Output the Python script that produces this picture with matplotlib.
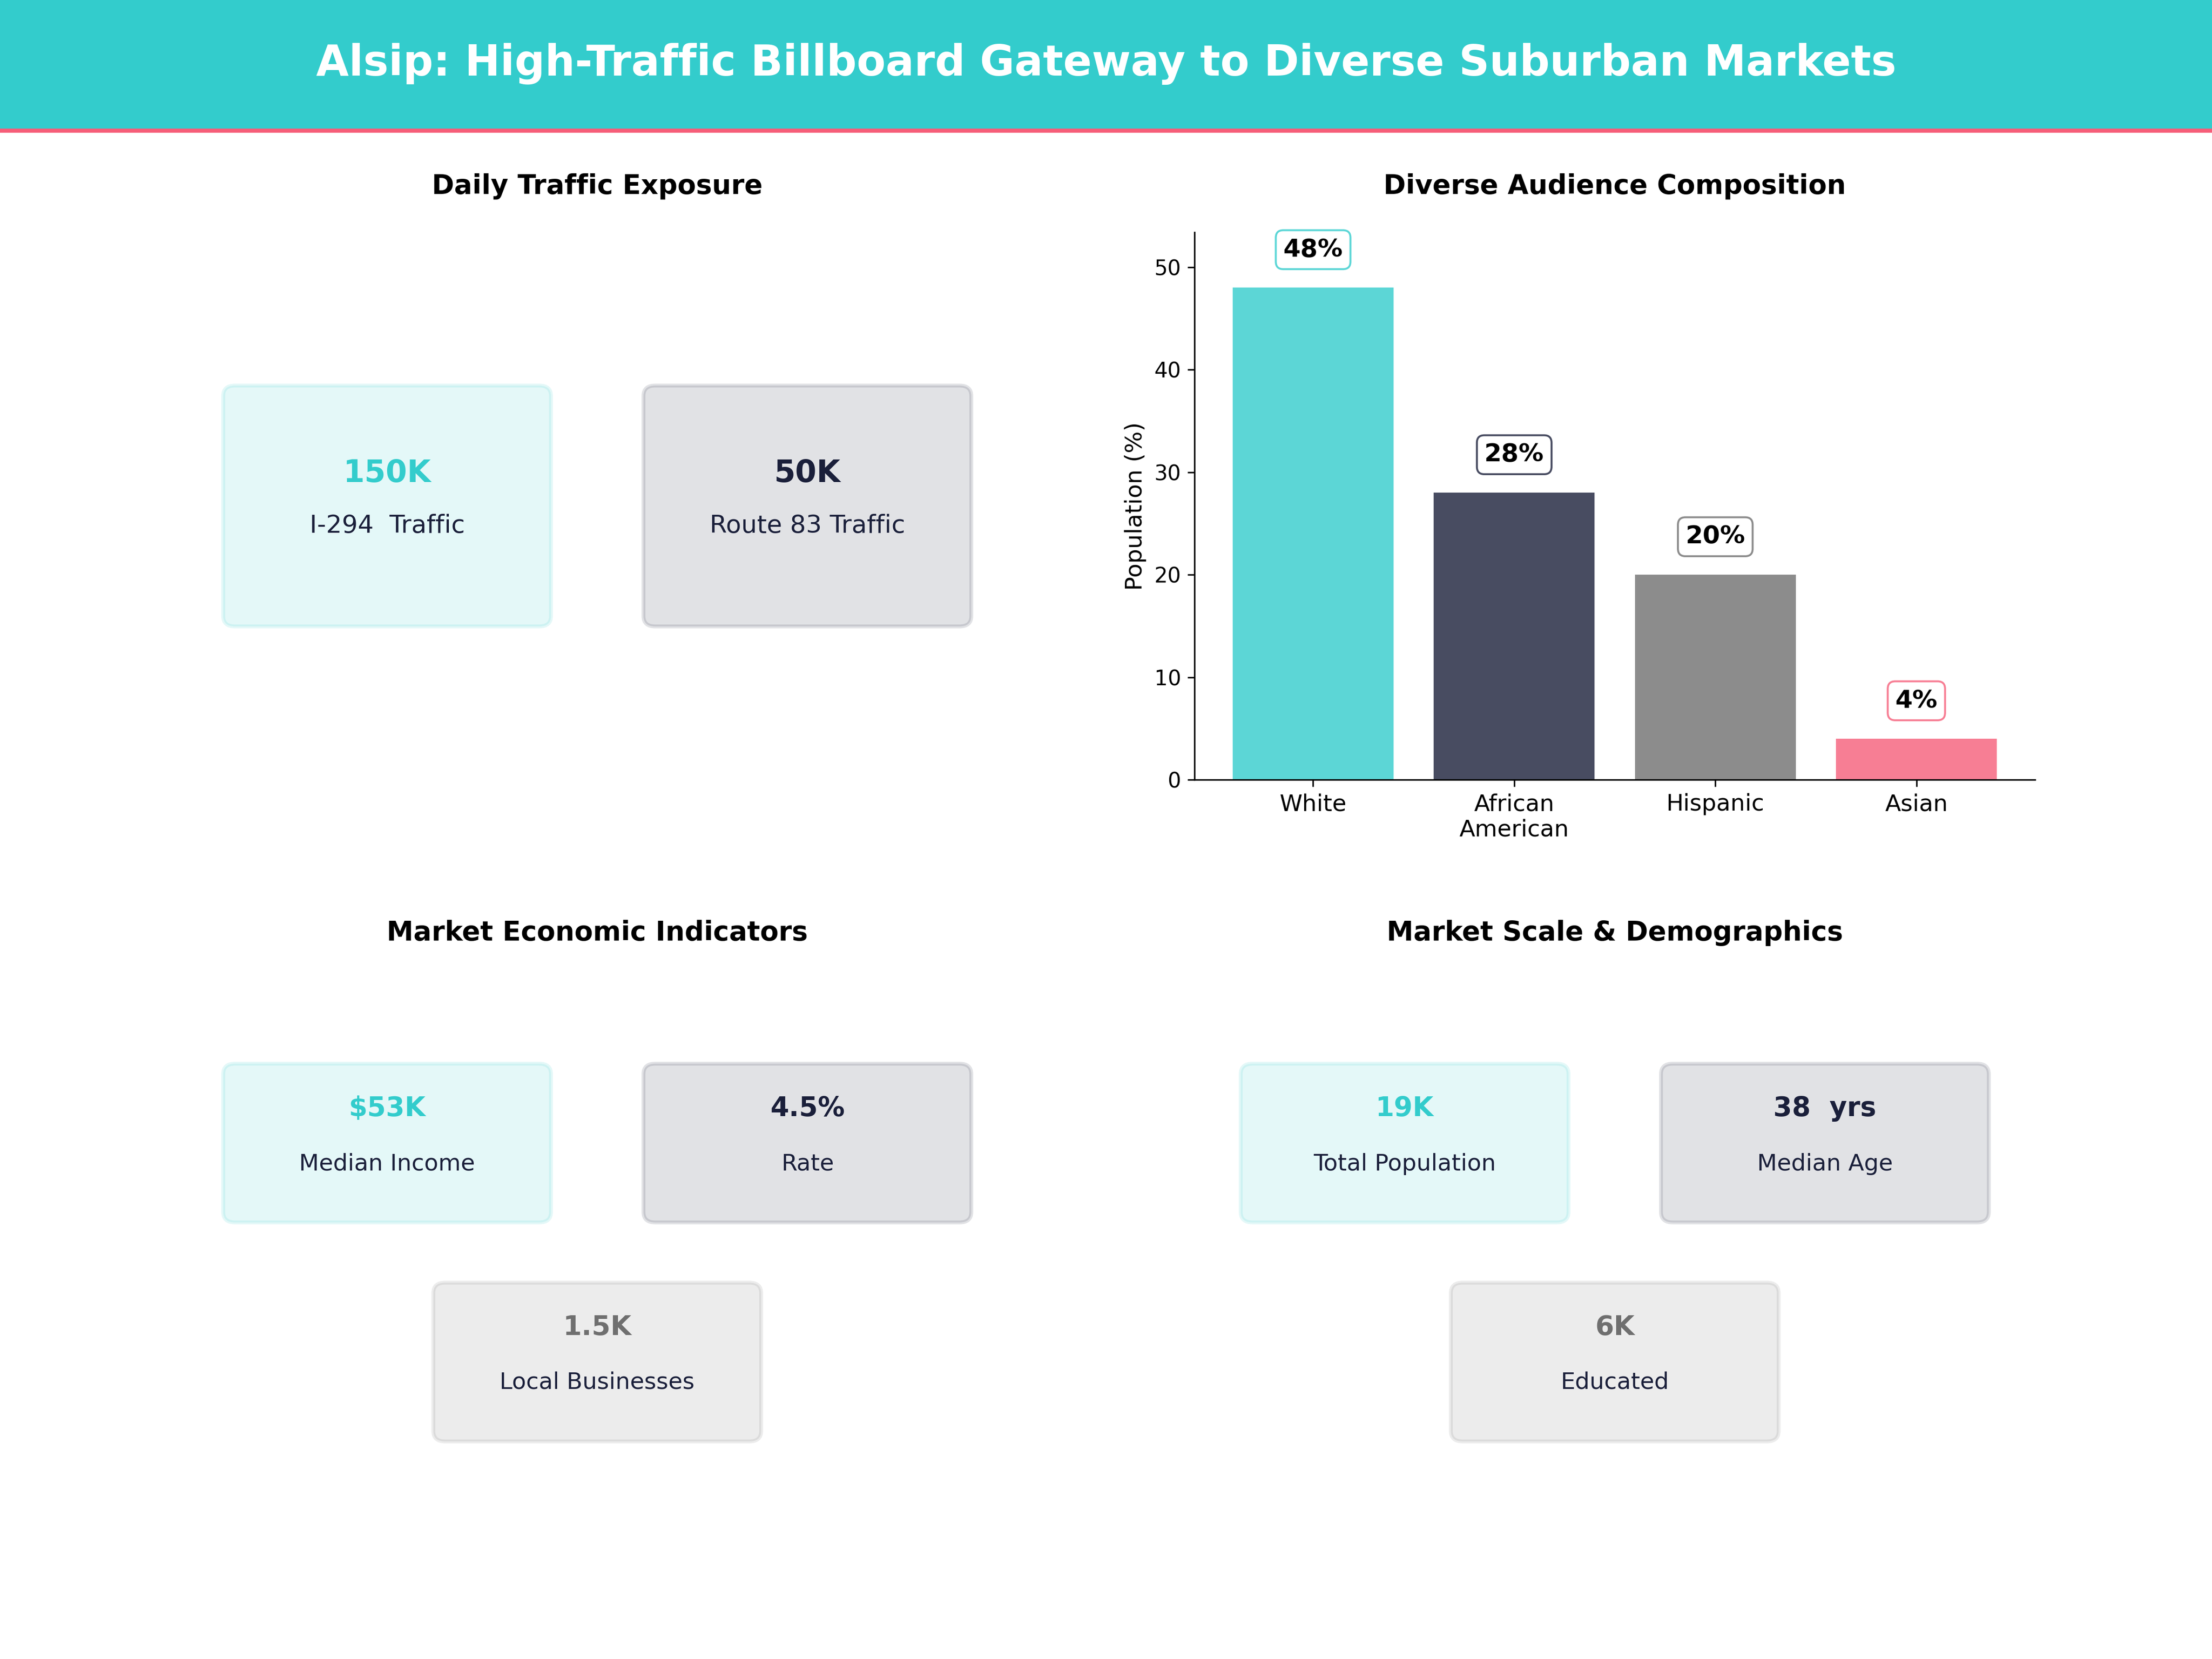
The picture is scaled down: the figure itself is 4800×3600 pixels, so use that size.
import matplotlib
matplotlib.use('Agg')
import matplotlib.pyplot as plt
from matplotlib.patches import FancyBboxPatch, Rectangle

TEAL = '#33CCCC'
NAVY = '#1A1F3A'
GRAY = '#6F6F6F'
PINK = '#F65E79'

# Audience chart data
groups = ['White', 'African\nAmerican', 'Hispanic', 'Asian']
shares = [48, 28, 20, 4]
group_colors = [TEAL, NAVY, GRAY, PINK]

# KPI cards
traffic_values = ['150K', '50K']
traffic_labels = ['I-294  Traffic', 'Route 83 Traffic']
economy_values = ['$53K', '4.5%', '1.5K']
economy_labels = ['Median Income', 'Rate', 'Local Businesses']
scale_values = ['19K', '38  yrs', '6K']
scale_labels = ['Total Population', 'Median Age', 'Educated']
card_colors = [TEAL, NAVY, GRAY]


def draw_card(ax, cx, cy, h, value, label, color, value_y, label_y, value_size, label_size):
    w = 0.39
    card = FancyBboxPatch((cx - w / 2, cy - h / 2), w, h,
                          boxstyle='round,pad=0,rounding_size=0.014',
                          mutation_aspect=1.35, facecolor=color, edgecolor=color,
                          linewidth=2, alpha=0.13, transform=ax.transAxes)
    ax.add_patch(card)
    ax.text(cx, value_y, value, transform=ax.transAxes, ha='center', va='center',
            fontsize=value_size, fontweight='bold', color=color)
    ax.text(cx, label_y, label, transform=ax.transAxes, ha='center', va='center',
            fontsize=label_size, color=NAVY)


def panel(rect, title):
    ax = fig.add_axes(rect)
    ax.axis('off')
    ax.set_title(title, fontsize=14, fontweight='bold', pad=20)
    return ax


fig = plt.figure(figsize=(16, 12), dpi=300)

# header band
fig.add_artist(Rectangle((0, 0.9225), 1, 0.0775, transform=fig.transFigure, facecolor=TEAL, edgecolor='none'))
fig.add_artist(Rectangle((0, 0.92), 1, 0.0025, transform=fig.transFigure, facecolor=PINK, edgecolor='none'))
fig.text(0.5, 0.9615, 'Alsip: High-Traffic Billboard Gateway to Diverse Suburban Markets',
         ha='center', va='center', fontsize=22, fontweight='bold', color='white')

# top left: traffic
ax1 = panel([0.08, 0.53, 0.38, 0.33], 'Daily Traffic Exposure')
for i, x in enumerate([0.25, 0.75]):
    draw_card(ax1, x, 0.5, 0.44, traffic_values[i], traffic_labels[i], card_colors[i], 0.56, 0.464, 16, 13)

# top right: bars
ax2 = fig.add_axes([0.54, 0.53, 0.38, 0.33])
bars = ax2.bar(range(len(groups)), shares, color=group_colors, alpha=0.8, width=0.8)
ax2.set_xticks(range(len(groups)))
ax2.set_xticklabels(groups, fontsize=12)
ax2.set_ylim(0, 53.4)
ax2.tick_params(axis='y', labelsize=11)
ax2.set_ylabel('Population (%)', fontsize=12)
ax2.set_title('Diverse Audience Composition', fontsize=14, fontweight='bold', pad=20)
ax2.spines['top'].set_visible(False)
ax2.spines['right'].set_visible(False)
for bar, share, color in zip(bars, shares, group_colors):
    ax2.text(bar.get_x() + bar.get_width() / 2, share + 3.7, f'{share}%', ha='center', va='center',
             fontsize=13, fontweight='bold',
             bbox=dict(boxstyle='round,pad=0.3', facecolor='white', edgecolor=color, alpha=0.8, linewidth=1))

# bottom panels
ax3 = panel([0.08, 0.08, 0.38, 0.33], 'Market Economic Indicators')
ax4 = panel([0.54, 0.08, 0.38, 0.33], 'Market Scale & Demographics')
positions = [(0.25, 0.70, 0.763, 0.662), (0.75, 0.70, 0.763, 0.662), (0.5, 0.30, 0.363, 0.263)]
for ax, values, labels in [(ax3, economy_values, economy_labels), (ax4, scale_values, scale_labels)]:
    for i, (x, y, vy, ly) in enumerate(positions):
        draw_card(ax, x, y, 0.29, values[i], labels[i], card_colors[i], vy, ly, 14, 12)

fig.savefig('out.png', dpi=300)
